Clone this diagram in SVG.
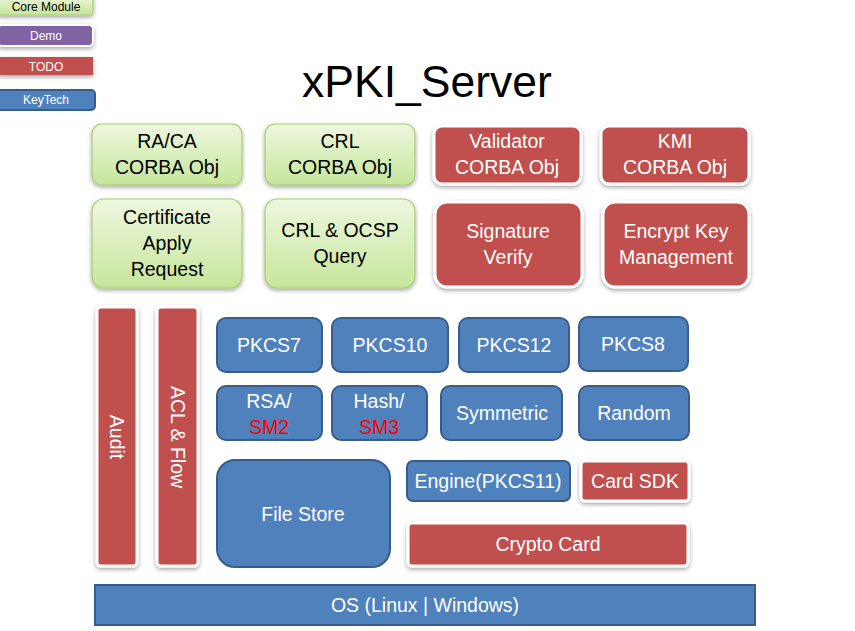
<svg xmlns="http://www.w3.org/2000/svg" width="855" height="631" viewBox="0 0 855 631">
<defs>
<linearGradient id="gGreen" x1="0" y1="0" x2="0" y2="1">
<stop offset="0" stop-color="#EEF7DF"/>
<stop offset="1" stop-color="#C6E69B"/>
</linearGradient>
<filter id="sh" x="-20%" y="-20%" width="140%" height="150%">
<feDropShadow dx="0" dy="2" stdDeviation="2" flood-color="#000" flood-opacity="0.35"/>
</filter>
</defs>
<style>
text{font-family:"Liberation Sans",Arial,sans-serif;text-anchor:middle}
.green{fill:url(#gGreen);stroke:#A9CC73;stroke-width:1.2;filter:url(#sh)}
.red{fill:#C0504D;stroke:#FFFFFF;stroke-width:3;filter:url(#sh)}
.blue{fill:#4F81BD;stroke:#385D8A;stroke-width:2}
.purple{fill:#8064A2;stroke:#FFFFFF;stroke-width:2;filter:url(#sh)}
.t{font-size:19.5px;fill:#000}
.w{font-size:19.5px;fill:#FFFFFF}
.s{fill:#FF0000}
.lg{font-size:12px}
</style>
<rect width="855" height="631" fill="#FFFFFF"/>

<g id="legend-core"><rect class="green" x="-6" y="-6" width="99" height="21" rx="4"/><text class="lg" x="46" y="11" fill="#000">Core Module</text></g>
<g id="legend-demo"><rect class="purple" x="-2" y="25" width="95" height="21" rx="4"/><text class="lg" x="46" y="40" fill="#FFF">Demo</text></g>
<g id="legend-todo"><rect x="-2" y="57" width="95" height="18" fill="#C0504D" filter="url(#sh)"/><text class="lg" x="46" y="71" fill="#FFF">TODO</text></g>
<g id="legend-keytech"><rect class="blue" x="-3" y="90" width="98" height="20" rx="4"/><text class="lg" x="46" y="104" fill="#FFF">KeyTech</text></g>

<text x="427" y="97" font-size="44.5" fill="#000">xPKI_Server</text>

<g id="connectors"></g>

<g id="raca"><rect class="green" x="92" y="124" width="150" height="61" rx="10"/><text class="t" x="167" y="148">RA/CA</text><text class="t" x="167" y="174">CORBA Obj</text></g>
<g id="crl-corba"><rect class="green" x="265" y="124" width="150" height="61" rx="10"/><text class="t" x="340" y="148">CRL</text><text class="t" x="340" y="174">CORBA Obj</text></g>
<g id="validator"><rect class="red" x="434" y="126" width="147" height="58" rx="8"/><text class="w" x="507" y="148">Validator</text><text class="w" x="507" y="174">CORBA Obj</text></g>
<g id="kmi"><rect class="red" x="601" y="126" width="148" height="58" rx="8"/><text class="w" x="675" y="148">KMI</text><text class="w" x="675" y="174">CORBA Obj</text></g>

<g id="cert-apply"><rect class="green" x="92" y="199" width="150" height="89" rx="12"/><text class="t" x="167" y="224">Certificate</text><text class="t" x="167" y="250">Apply</text><text class="t" x="167" y="276">Request</text></g>
<g id="crl-ocsp"><rect class="green" x="265" y="199" width="150" height="89" rx="12"/><text class="t" x="340" y="237">CRL &amp; OCSP</text><text class="t" x="340" y="263">Query</text></g>
<g id="sig-verify"><rect class="red" x="435" y="202" width="147" height="85" rx="12"/><text class="w" x="508" y="238">Signature</text><text class="w" x="508" y="264">Verify</text></g>
<g id="enc-key"><rect class="red" x="603" y="202" width="146" height="85" rx="12"/><text class="w" x="676" y="238">Encrypt Key</text><text class="w" x="676" y="264">Management</text></g>

<g id="audit"><rect class="red" x="97" y="307" width="40" height="259" rx="4"/><text class="w" transform="translate(117,437) rotate(90)" y="7">Audit</text></g>
<g id="acl-flow"><rect class="red" x="157" y="307" width="41" height="259" rx="4"/><text class="w" transform="translate(177.5,437) rotate(90)" y="7">ACL &amp; Flow</text></g>

<g id="pkcs7"><rect class="blue" x="217" y="318" width="105" height="54" rx="9"/><text class="w" x="269" y="352">PKCS7</text></g>
<g id="pkcs10"><rect class="blue" x="332" y="318" width="116" height="54" rx="9"/><text class="w" x="390" y="352">PKCS10</text></g>
<g id="pkcs12"><rect class="blue" x="459" y="318" width="110" height="54" rx="9"/><text class="w" x="514" y="352">PKCS12</text></g>
<g id="pkcs8"><rect class="blue" x="579" y="317" width="109" height="54" rx="9"/><text class="w" x="633" y="351">PKCS8</text></g>

<g id="rsa"><rect class="blue" x="217" y="386" width="105" height="54" rx="9"/><text class="w" x="269" y="408">RSA/</text><text class="w s" x="269" y="434">SM2</text></g>
<g id="hash"><rect class="blue" x="332" y="386" width="95" height="54" rx="9"/><text class="w" x="379" y="408">Hash/</text><text class="w s" x="379" y="434">SM3</text></g>
<g id="symmetric"><rect class="blue" x="441" y="386" width="121" height="54" rx="9"/><text class="w" x="502" y="420">Symmetric</text></g>
<g id="random"><rect class="blue" x="579" y="386" width="110" height="54" rx="9"/><text class="w" x="634" y="420">Random</text></g>

<g id="file-store"><rect class="blue" x="217" y="460" width="173" height="107" rx="18"/><text class="w" x="303" y="521">File Store</text></g>
<g id="engine"><rect class="blue" x="407" y="461" width="163" height="40" rx="6"/><text class="w" x="488" y="488">Engine(PKCS11)</text></g>
<g id="card-sdk"><rect class="red" x="581" y="461" width="108" height="40" rx="4"/><text class="w" x="635" y="488">Card SDK</text></g>
<g id="crypto-card"><rect class="red" x="408" y="523" width="280" height="43" rx="4"/><text class="w" x="548" y="551">Crypto Card</text></g>

<g id="os"><rect class="blue" x="95" y="585" width="660" height="40"/><text class="w" x="425" y="612">OS (Linux | Windows)</text></g>
</svg>
